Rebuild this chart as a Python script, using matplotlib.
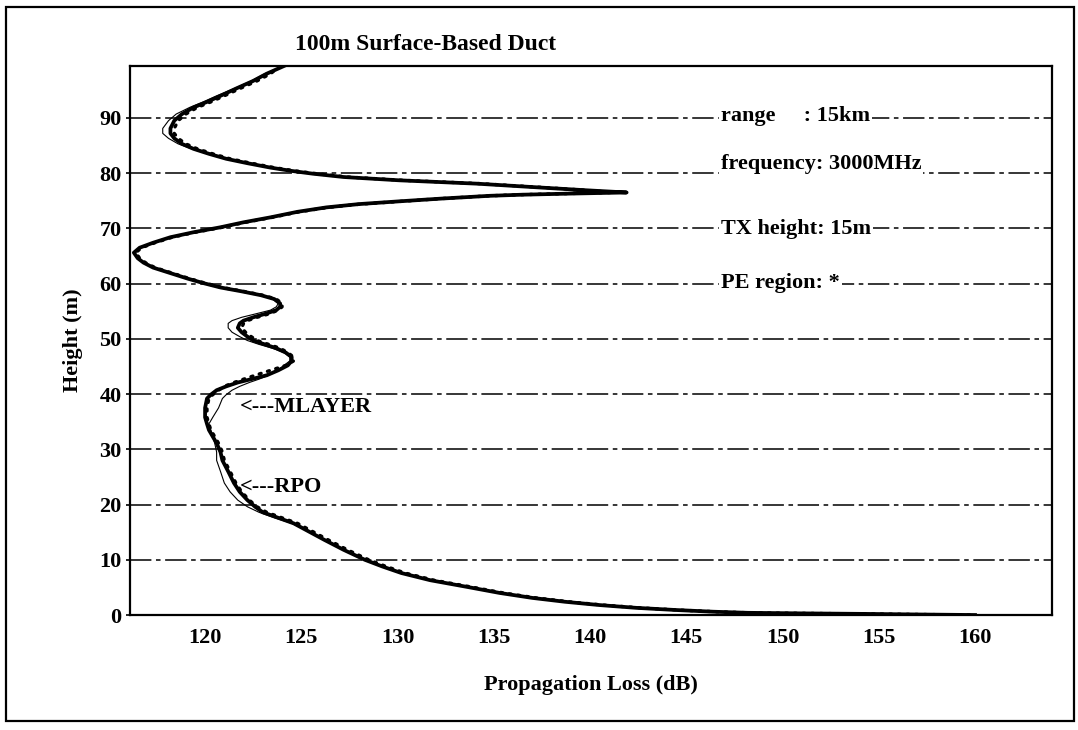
import matplotlib.pyplot as plt
from matplotlib.patches import Rectangle

plt.rcParams['font.family'] = ['Liberation Serif', 'DejaVu Serif']
plt.rcParams['font.weight'] = 'bold'
plt.rcParams['axes.labelweight'] = 'bold'

height = [99.4, 98.0, 96.7, 95.3, 94.0, 92.9, 91.9, 90.7, 89.5, 88.1,
          87.2, 86.3, 85.3, 84.4, 83.5, 82.6, 81.8, 81.0, 80.4, 79.9,
          79.3, 78.7, 78.1, 77.4, 76.9, 76.5, 76.3, 76.1, 75.9, 75.4,
          74.9, 74.4, 73.8, 73.0, 72.0, 71.1, 70.2, 69.3, 68.4, 67.4,
          66.5, 65.6, 64.6, 63.8, 62.9, 61.9, 60.9, 60.1, 59.3, 58.6,
          57.9, 57.2, 56.4, 55.8, 55.2, 54.5, 53.9, 53.3, 52.8, 52.0,
          51.2, 50.4, 49.7, 49.0, 48.3, 47.5, 46.7, 46.0, 45.2, 44.3,
          43.4, 42.7, 42.1, 41.4, 40.7, 39.9, 39.2, 37.5, 35.8, 34.6,
          33.5, 32.3, 31.1, 29.5, 28.0, 26.0, 23.9, 22.3, 20.8, 19.6,
          18.6, 17.6, 16.6, 15.1, 13.6, 11.8, 10.0, 8.8, 7.6, 6.3,
          5.1, 4.0, 3.1, 2.4, 1.8, 1.3, 0.9, 0.6, 0.4, 0.3,
          0.2, 0.1, 0.0]

# RPO (thick line), propagation loss in dB
rpo_loss = [124.1, 123.2, 122.5, 121.6, 120.8, 120.1, 119.4, 118.8, 118.4, 118.2,
            118.2, 118.4, 118.8, 119.4, 120.2, 121.1, 122.2, 123.4, 124.5, 125.6,
            127.2, 130.1, 134.1, 137.4, 139.8, 141.9, 139.0, 136.5, 134.8, 132.3,
            130.1, 128.0, 126.3, 124.8, 123.4, 122.0, 120.8, 119.4, 118.2, 117.3,
            116.6, 116.3, 116.5, 116.8, 117.3, 118.2, 119.1, 119.9, 120.8, 121.9,
            122.9, 123.6, 123.9, 123.9, 123.7, 123.1, 122.5, 122.0, 121.8, 121.7,
            121.9, 122.2, 122.5, 123.1, 123.7, 124.2, 124.5, 124.5, 124.3, 123.8,
            123.2, 122.4, 121.7, 121.1, 120.6, 120.3, 120.1, 120.0, 120.0, 120.1,
            120.2, 120.4, 120.6, 120.8, 120.9, 121.2, 121.5, 121.8, 122.2, 122.6,
            123.0, 123.8, 124.6, 125.4, 126.2, 127.2, 128.3, 129.2, 130.2, 131.7,
            133.6, 135.3, 137.0, 138.7, 140.5, 142.4, 144.5, 146.4, 148.2, 151.0,
            154.4, 157.0, 160.0]

# MLAYER (thin line)
mlayer_loss = [124.1, 123.1, 122.4, 121.5, 120.6, 119.9, 119.2, 118.5, 118.1, 117.8,
               117.8, 118.1, 118.6, 119.3, 120.1, 121.0, 122.1, 123.3, 124.4, 125.5,
               127.1, 130.0, 134.0, 137.3, 139.5, 141.5, 138.8, 136.4, 134.8, 132.3,
               130.1, 128.0, 126.3, 124.8, 123.4, 122.0, 120.8, 119.4, 118.2, 117.3,
               116.6, 116.3, 116.5, 116.8, 117.3, 118.2, 119.1, 119.9, 120.8, 121.8,
               122.8, 123.5, 123.8, 123.7, 123.4, 122.6, 121.9, 121.4, 121.2, 121.2,
               121.4, 121.8, 122.2, 122.8, 123.5, 124.1, 124.4, 124.4, 124.1, 123.8,
               123.3, 122.8, 122.3, 121.8, 121.4, 121.1, 120.9, 120.7, 120.4, 120.2,
               120.3, 120.4, 120.5, 120.6, 120.6, 120.8, 121.0, 121.3, 121.7, 122.2,
               122.8, 123.6, 124.5, 125.4, 126.2, 127.2, 128.3, 129.2, 130.2, 131.7,
               133.6, 135.3, 137.0, 138.7, 140.5, 142.4, 144.5, 146.4, 148.2, 151.0,
               154.4, 157.0, 160.0]

# PE (dotted)
pe_loss = [123.9, 123.4, 122.7, 121.8, 121.0, 120.3, 119.6, 119.0, 118.6, 118.4,
           118.4, 118.6, 119.0, 119.6, 120.4, 121.3, 122.4, 123.6, 124.7, 125.8,
           127.4, 130.3, 134.3, 137.6, 139.8, 141.2, 138.8, 136.4, 134.8, 132.3,
           130.2, 128.1, 126.4, 124.9, 123.5, 122.1, 120.9, 119.5, 118.3, 117.4,
           116.7, 116.4, 116.6, 116.9, 117.4, 118.3, 119.2, 120.0, 120.9, 122.0,
           123.0, 123.7, 124.0, 124.0, 123.8, 123.3, 122.7, 122.2, 122.0, 121.9,
           122.1, 122.4, 122.7, 123.3, 123.9, 124.3, 124.6, 124.6, 124.2, 123.4,
           122.6, 122.0, 121.5, 121.0, 120.7, 120.4, 120.2, 120.1, 120.1, 120.2,
           120.3, 120.5, 120.7, 120.9, 121.0, 121.3, 121.6, 121.9, 122.3, 122.7,
           123.2, 124.0, 124.8, 125.6, 126.4, 127.4, 128.5, 129.4, 130.4, 131.9,
           133.8, 135.5, 137.2, 138.9, 140.7, 142.6, 144.6, 146.5, 148.3, 151.1,
           154.5, 157.1, 160.0]

x_ticks = [120, 125, 130, 135, 140, 145, 150, 155, 160]
y_ticks = [0, 10, 20, 30, 40, 50, 60, 70, 80, 90]

info_lines = ['range     : 15km', 'frequency: 3000MHz', 'TX height: 15m', 'PE region: *']
info_heights = [90.3, 81.6, 69.8, 60.2]

fig = plt.figure(figsize=(10.78, 7.30), dpi=100)
ax = fig.add_axes([0.1206, 0.1575, 0.8553, 0.7521])

for h in y_ticks[1:]:
    ax.axhline(h, color='black', lw=1.1, ls=(0, (14, 3, 3, 3)), zorder=1)

ax.plot(mlayer_loss, height, color='black', lw=0.8, zorder=3)
ax.plot(rpo_loss, height, color='black', lw=2.7, zorder=4)
ax.plot(pe_loss, height, color='black', lw=2.4, ls=(0, (0.6, 2.0)),
        dash_capstyle='round', zorder=5)

for txt, h in zip(info_lines, info_heights):
    ax.text(146.8, h, txt, fontsize=16, va='center', ha='left', zorder=6,
            bbox=dict(fc='white', ec='none', pad=1.5))

ax.text(121.8, 37.6, '<---MLAYER', fontsize=16, va='center', ha='left', zorder=6)
ax.text(121.8, 23.2, '<---RPO', fontsize=16, va='center', ha='left', zorder=6)

ax.set_xlim(116.1, 164.0)
ax.set_ylim(0, 99.4)
ax.set_xticks(x_ticks)
ax.set_yticks(y_ticks)
ax.tick_params(axis='x', length=0, pad=9, labelsize=16)
ax.tick_params(axis='y', length=3, width=1.2, pad=3, labelsize=16)
for s in ax.spines.values():
    s.set_linewidth(1.6)

ax.set_xlabel('Propagation Loss (dB)', fontsize=16, labelpad=20)
ax.set_ylabel('Height (m)', fontsize=16, labelpad=12)

fig.text(295 / 1078, 1 - 44 / 730, '100m Surface-Based Duct', fontsize=17,
         ha='left', va='center')

fig.add_artist(Rectangle((0.006, 0.012), 0.99, 0.978, transform=fig.transFigure,
                         fill=False, lw=1.6, ec='black'))

fig.savefig('out.png', dpi=100)
